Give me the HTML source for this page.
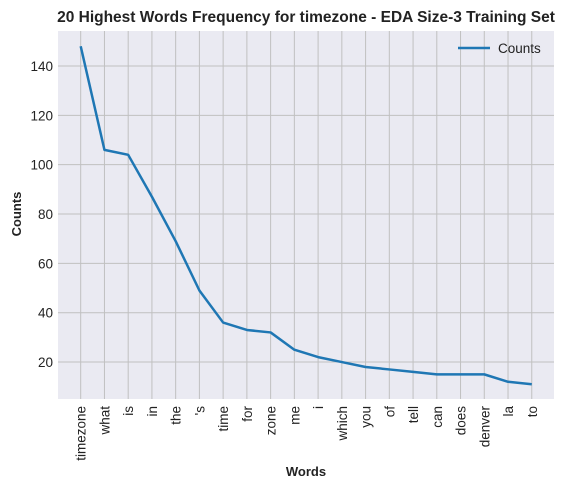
<!DOCTYPE html>
<html><head><meta charset="utf-8"><style>
body{margin:0;background:#fff;font-family:"Liberation Sans",Arial,sans-serif}
svg text{font-family:"Liberation Sans",Arial,sans-serif}
</style></head><body>
<svg id="chart" width="583" height="490" xmlns="http://www.w3.org/2000/svg">
<rect x="58" y="31" width="496" height="368" fill="#eaeaf2"/>
<g id="grid"></g>
<g id="xticks"></g>
<g id="yticks"></g>
<polyline id="line" fill="none" stroke="#1f77b4" stroke-width="2.5" stroke-linejoin="round"/>
<text x="306" y="22" text-anchor="middle" font-size="15.5" font-weight="bold" fill="#222">20 Highest Words Frequency for timezone - EDA Size-3 Training Set</text>
<text x="306" y="476" text-anchor="middle" font-size="13" font-weight="bold" fill="#222">Words</text>
<text transform="translate(21,214) rotate(-90)" text-anchor="middle" font-size="13" font-weight="bold" fill="#222">Counts</text>
<g>
<line x1="458" y1="48" x2="490" y2="48" stroke="#1f77b4" stroke-width="2.5"/>
<text x="498" y="53" font-size="13.5" fill="#222">Counts</text>
</g>
</svg>
<script>
const categories=["timezone","what","is","in","the","'s","time","for","zone","me","i","which","you","of","tell","can","does","denver","la","to"];
const counts=[148,106,104,87,69,49,36,33,32,25,22,20,18,17,16,15,15,15,12,11];
const yTicks=[20,40,60,80,100,120,140];
const NS="http://www.w3.org/2000/svg";
const xS=i=>80.7+i*23.74;
const yS=v=>66+(140-v)*2.467;
const grid=document.getElementById('grid'),xt=document.getElementById('xticks'),yt=document.getElementById('yticks');
function mk(tag,attrs,parent){const e=document.createElementNS(NS,tag);for(const k in attrs)e.setAttribute(k,attrs[k]);parent.appendChild(e);return e;}
yTicks.forEach(v=>{
 const l=mk('line',{x1:58,x2:554,y1:yS(v),y2:yS(v),stroke:'#c0c0c0','stroke-width':1},grid);
 
 
 const t=mk('text',{x:53,y:yS(v)+5,'text-anchor':'end','font-size':13.5,fill:'#222'},yt);
 
 
 t.textContent=v;
});
categories.forEach((c,i)=>{
 const x=xS(i);
 const l=mk('line',{x1:x,x2:x,y1:31,y2:399,stroke:'#c0c0c0','stroke-width':1},grid);
 
 
 const t=mk('text',{transform:`translate(${x+5},406) rotate(-90)`,'text-anchor':'end','font-size':13.5,fill:'#222'},xt);
 
 
 t.textContent=c;
});
document.getElementById('line').setAttribute('points',counts.map((v,i)=>xS(i)+','+yS(v)).join(' '));
</script>
</body></html>
